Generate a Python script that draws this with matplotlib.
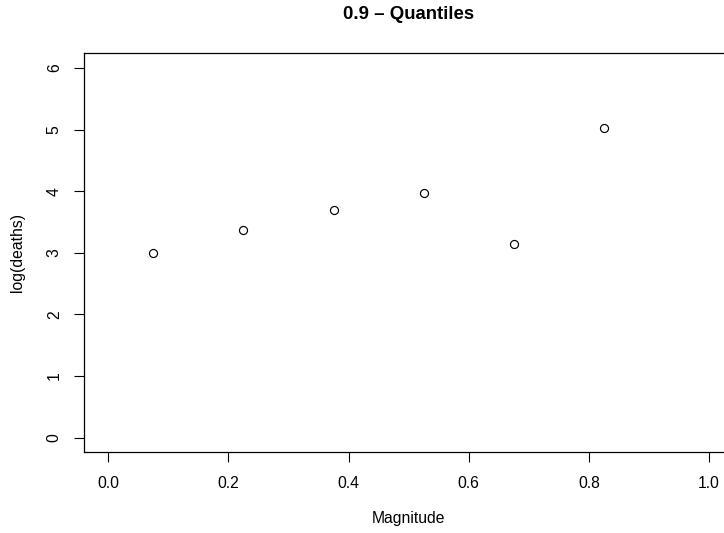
import matplotlib
matplotlib.use("Agg")
import matplotlib.pyplot as plt

# data
magnitude = [0.075, 0.225, 0.375, 0.525, 0.675, 0.825]
log_deaths = [2.99, 3.37, 3.70, 3.97, 3.15, 5.03]
xticks = [0.0, 0.2, 0.4, 0.6, 0.8, 1.0]
yticks = [0, 1, 2, 3, 4, 5, 6]

plt.rcParams['font.family'] = ['Liberation Sans', 'DejaVu Sans']

fig = plt.figure(figsize=(7.24, 5.33), dpi=100)
# R-style box; right edge runs off the image like the original
ax = fig.add_axes([0.1164, 0.1514, 0.8960, 0.7486])

ax.plot(magnitude, log_deaths, linestyle="none", marker="o",
        markersize=5.8, markerfacecolor="none", markeredgecolor="black",
        markeredgewidth=0.85)

ax.set_xlim(-0.04, 1.04)
ax.set_ylim(-0.24, 6.24)
ax.set_xticks(xticks)
ax.set_xticklabels([f"{v:.1f}" for v in xticks])
ax.set_yticks(yticks)
ax.set_yticklabels([str(v) for v in yticks], rotation=90, va="center")

ax.tick_params(axis="both", direction="out", length=7.2, width=0.8,
               labelsize=11.3, color="black")
ax.tick_params(axis="x", pad=10)
ax.tick_params(axis="y", pad=9)
for s in ax.spines.values():
    s.set_linewidth(0.9)
    s.set_color("black")

ax.set_xlabel("Magnitude", fontsize=11.3, va="center")
ax.xaxis.set_label_coords(0.5, -0.167)
ax.set_ylabel("log(deaths)", fontsize=11.3, va="center")
ax.yaxis.set_label_coords(-0.1037, 0.5)

ax.set_title("0.9 \u2013 Quantiles", fontsize=13.4, fontweight="bold",
             y=1.096, pad=0, va="center")

fig.savefig("out.png", dpi=100)
